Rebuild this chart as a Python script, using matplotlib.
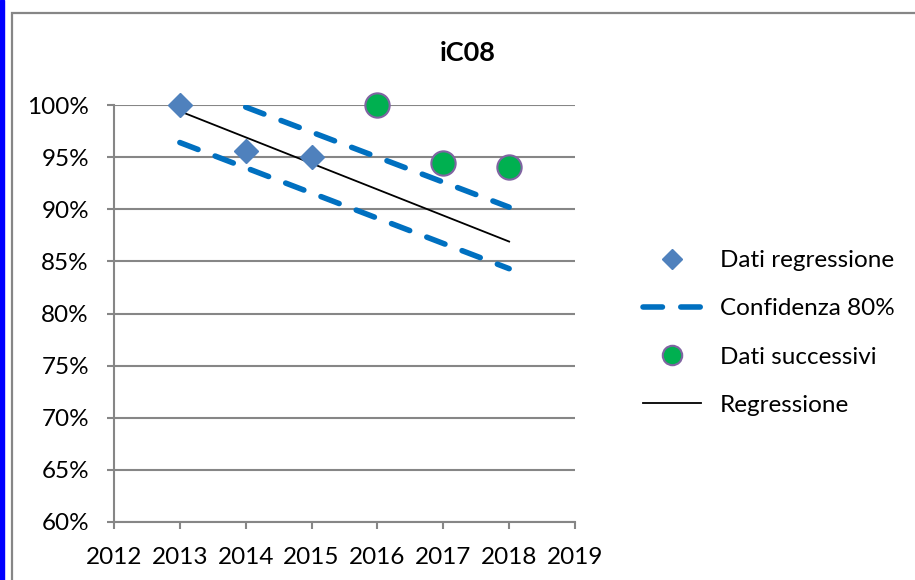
import numpy as np
import matplotlib.pyplot as plt
from matplotlib.patches import Rectangle
from matplotlib.ticker import FuncFormatter

plt.rcParams["font.family"] = ["Lato", "DejaVu Sans"]

# data (percent)
reg_years = [2013, 2014, 2015]
reg_values = [100.0, 95.6, 95.0]
next_years = [2016, 2017, 2018]
next_values = [100.0, 94.4, 94.1]
fit_years = [2013, 2018]
fit_values = [99.4, 86.9]
upper_years = [2014, 2018]
upper_values = [99.8, 90.2]
lower_years = [2013, 2018]
lower_values = [96.4, 84.3]
x_ticks = [2012, 2013, 2014, 2015, 2016, 2017, 2018, 2019]
y_ticks = [60, 65, 70, 75, 80, 85, 90, 95, 100]

W, H = 915, 580
fig = plt.figure(figsize=(W / 100, H / 100), dpi=100)

# chart frame and blue strip on the left
fig.patches.append(Rectangle((0, 0), 3.5 / W, 1, transform=fig.transFigure,
                             color="#0000FF", zorder=0))
fig.patches.append(Rectangle((12 / W, -0.1), 1.1, 1.1 - 13 / H, transform=fig.transFigure,
                             fill=False, edgecolor="#868686", lw=1.6, zorder=0))

ax = fig.add_axes([114 / W, 1 - 522 / H, (575 - 114) / W, (522 - 105) / H])
ax.set_xlim(2012, 2019)
ax.set_ylim(60, 100)

gray = "#868686"
ax.set_yticks(y_ticks)
ax.set_xticks(x_ticks)
ax.yaxis.set_major_formatter(FuncFormatter(lambda v, p: f"{v:.0f}%"))
ax.grid(axis="y", color=gray, lw=1.5)
ax.set_axisbelow(True)
for s in ["top", "right"]:
    ax.spines[s].set_visible(False)
for s in ["left", "bottom"]:
    ax.spines[s].set_color(gray)
    ax.spines[s].set_linewidth(1.5)
ax.tick_params(axis="both", colors=gray, length=5, width=1.5, labelcolor="black",
               labelsize=17.5)
ax.tick_params(axis="x", pad=13)
ax.tick_params(axis="y", pad=13)

dash_kw = dict(color="#0070C0", lw=4, dashes=(3.5, 3.3), dash_capstyle="round")
ax.plot(upper_years, upper_values, label="Confidenza 80%", **dash_kw)
ax.plot(lower_years, lower_values, **dash_kw)
ax.plot(fit_years, fit_values, color="black", lw=1.3, label="Regressione")
ax.plot(reg_years, reg_values, "D", color="#4F81BD", ms=12.5, mec="#4F81BD",
        clip_on=False, label="Dati regressione", zorder=5)
ax.plot(next_years, next_values, "o", color="#00B050", ms=17.5, mec="#8064A2", mew=1.5,
        clip_on=False, label="Dati successivi", zorder=5)

fig.text(468 / W, 1 - 53 / H, "iC08", ha="center", va="center",
         fontsize=19.5, fontweight="bold")

h, l = ax.get_legend_handles_labels()
order = [2, 0, 3, 1]
ax.legend([h[i] for i in order], [l[i] for i in order], loc="center left",
          bbox_to_anchor=(643 / W, 1 - 333 / H), bbox_transform=fig.transFigure,
          frameon=False, fontsize=17.5, labelspacing=1.12, handlelength=2.4,
          handletextpad=0.75, borderpad=0, borderaxespad=0, markerscale=0.8)

fig.savefig("out.png", dpi=100)
